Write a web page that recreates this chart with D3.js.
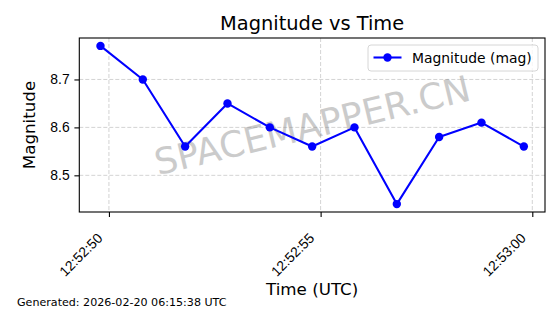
<!DOCTYPE html>
<html>
<head>
<meta charset="utf-8">
<script src="https://cdn.jsdelivr.net/npm/d3@7"></script>
<style>
	body { margin: 0; background: #fff; }
	svg { display: block; font-family: "DejaVu Sans", sans-serif; }
</style>
</head>
<body>
<svg id="chart"></svg>
<script>
// values
const times = ['12:52:49.8', '12:52:50.8', '12:52:51.8', '12:52:52.8', '12:52:53.8', '12:52:54.8',
	'12:52:55.8', '12:52:56.8', '12:52:57.8', '12:52:58.8', '12:52:59.8'];
const magnitudes = [8.77, 8.70, 8.56, 8.65, 8.60, 8.56, 8.60, 8.44, 8.58, 8.61, 8.56];
const yTicks = [8.5, 8.6, 8.7];
const xTicks = ['12:52:50', '12:52:55', '12:53:00'];
const day = '2026-02-20';

const config = {
	width: 560,
	height: 314,
	plot: { left: 79.3, right: 545, top: 38, bottom: 212 },
	line: '#0000ff',
	grid: '#c8c8c8'
};

const parse = t => new Date(`${day}T${t}Z`);
const data = times.map((t, i) => ({ time: parse(t), mag: magnitudes[i] }));

function padded(extent) {
	const pad = (extent[1] - extent[0]) * 0.05;
	return [extent[0] - pad, extent[1] + pad];
}

const svg = d3.select('#chart')
	.attr('width', config.width)
	.attr('height', config.height);

const p = config.plot;
const tExt = d3.extent(data, d => +d.time);
const x = d3.scaleUtc().domain(padded(tExt).map(v => new Date(v))).range([p.left, p.right]);
const y = d3.scaleLinear().domain(padded(d3.extent(magnitudes))).range([p.bottom, p.top]);

// grid
const grid = svg.append('g')
	.attr('stroke', config.grid)
	.attr('stroke-width', 0.8)
	.attr('stroke-dasharray', '4,2');
grid.selectAll('.gx')
	.data(xTicks)
	.enter()
	.append('line')
	.attr('x1', d => x(parse(d))).attr('x2', d => x(parse(d)))
	.attr('y1', p.top).attr('y2', p.bottom);
grid.selectAll('.gy')
	.data(yTicks)
	.enter()
	.append('line')
	.attr('x1', p.left).attr('x2', p.right)
	.attr('y1', d => y(d)).attr('y2', d => y(d));

// watermark
svg.append('text')
	.attr('transform', `translate(${(p.left + p.right) / 2},${(p.top + p.bottom) / 2}) rotate(-13.5)`)
	.attr('text-anchor', 'middle')
	.attr('dy', '0.36em')
	.style('font-size', '36px')
	.attr('fill', '#808080')
	.attr('opacity', 0.4)
	.text('SPACEMAPPER.CN');

// line + markers
const line = d3.line().x(d => x(d.time)).y(d => y(d.mag));
svg.append('path')
	.datum(data)
	.attr('d', line)
	.attr('fill', 'none')
	.attr('stroke', config.line)
	.attr('stroke-width', 2.08)
	.attr('stroke-linejoin', 'round');
svg.append('g')
	.selectAll('circle')
	.data(data)
	.enter()
	.append('circle')
	.attr('cx', d => x(d.time))
	.attr('cy', d => y(d.mag))
	.attr('r', 4.2)
	.attr('fill', config.line);

// axes
const xAxis = svg.append('g')
	.attr('transform', `translate(0,${p.bottom})`)
	.call(d3.axisBottom(x).tickValues(xTicks.map(parse)).tickFormat(d3.utcFormat('%H:%M:%S')).tickSize(4.9).tickSizeOuter(0));
xAxis.select('.domain').remove();
xAxis.selectAll('line').attr('stroke-width', 1.1);
xAxis.selectAll('text')
	.style('font-size', '13.9px')
	.attr('fill', '#000')
	.attr('text-anchor', 'end')
	.attr('y', 0).attr('dy', 0)
	.attr('transform', 'translate(-6,27) rotate(-45)');

const yAxis = svg.append('g')
	.attr('transform', `translate(${p.left},0)`)
	.call(d3.axisLeft(y).tickValues(yTicks).tickFormat(d3.format('.1f')).tickSize(4.9).tickSizeOuter(0));
yAxis.select('.domain').remove();
yAxis.selectAll('line').attr('stroke-width', 1.1);
yAxis.selectAll('text')
	.style('font-size', '13.9px')
	.attr('fill', '#000')
	.attr('x', -9.7);

svg.append('rect')
	.attr('x', p.left).attr('y', p.top)
	.attr('width', p.right - p.left).attr('height', p.bottom - p.top)
	.attr('fill', 'none')
	.attr('stroke', '#000')
	.attr('stroke-width', 1.1);

// titles
svg.append('text')
	.attr('x', (p.left + p.right) / 2).attr('y', 30)
	.attr('text-anchor', 'middle')
	.style('font-size', '19.4px')
	.text('Magnitude vs Time');
svg.append('text')
	.attr('x', (p.left + p.right) / 2).attr('y', 294.5)
	.attr('text-anchor', 'middle')
	.style('font-size', '16.7px')
	.text('Time (UTC)');
svg.append('text')
	.attr('transform', `translate(35,${(p.top + p.bottom) / 2}) rotate(-90)`)
	.attr('text-anchor', 'middle')
	.style('font-size', '16.7px')
	.text('Magnitude');
svg.append('text')
	.attr('x', 17).attr('y', 306)
	.style('font-size', '11.1px')
	.text(`Generated: ${day} 06:15:38 UTC`);

// legend
const lg = svg.append('g').attr('transform', 'translate(368,45)');
lg.append('rect')
	.attr('width', 170).attr('height', 26)
	.attr('rx', 3)
	.attr('fill', '#fff').attr('fill-opacity', 0.8)
	.attr('stroke', '#d6d6d6');
lg.append('line')
	.attr('x1', 5.5).attr('x2', 33.5).attr('y1', 12.5).attr('y2', 12.5)
	.attr('stroke', config.line).attr('stroke-width', 2.08);
lg.append('circle')
	.attr('cx', 19.5).attr('cy', 12.5).attr('r', 4.2)
	.attr('fill', config.line);
lg.append('text')
	.attr('x', 44).attr('y', 17.5)
	.style('font-size', '13.9px')
	.text('Magnitude (mag)');
</script>
</body>
</html>
